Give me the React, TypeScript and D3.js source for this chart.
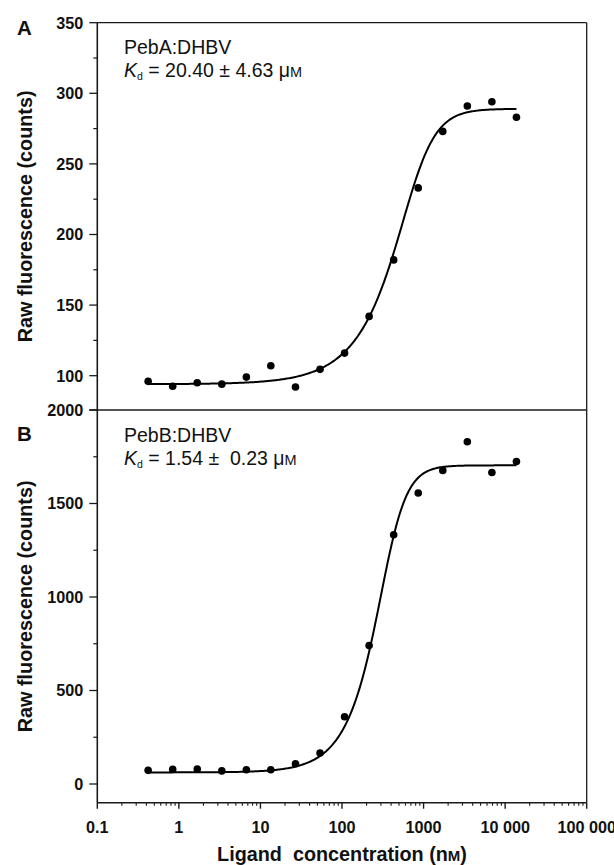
import React from 'react';
import * as d3 from 'd3';

// ---- data ----
const concentrations = [0.42, 0.84, 1.68, 3.36, 6.72, 13.4, 26.9, 53.8, 107.5, 215, 430, 860, 1720, 3440, 6880, 13760];
const pebAValues = [96, 92.5, 95, 94, 99, 107, 92, 104.5, 116, 142, 182, 233, 273, 291, 294, 283];
const pebBValues = [73, 78, 80, 70, 76.5, 76, 108, 166, 360, 740, 1333, 1556, 1677, 1830, 1666, 1725];

const xTickValues = [0.1, 1, 10, 100, 1000, 10000, 100000];
const xTickLabels = ['0.1', '1', '10', '100', '1000', '10 000', '100 000'];
const yTicksA = [100, 150, 200, 250, 300, 350];
const yMinorA = [125, 175, 225, 275, 325];
const yTicksB = [0, 500, 1000, 1500, 2000];
const yMinorB = [250, 750, 1250, 1750];

// fitted curve parameters (asymmetric logistic)
const fitA = { bottom: 94, top: 289, c: 780, b: 2.4, g: 0.45 };
const fitB = { bottom: 62, top: 1704, c: 379, b: 3, g: 0.5 };

const FONT = '"Liberation Sans", Arial, Helvetica, sans-serif';
const W = 614;
const H = 865;
const left = 97.3;
const right = 586.7;
const topA = 22.7;
const mid = 410;
const bottomB = 802.7;

const x = d3.scaleLog().domain([0.1, 100000]).range([left, right]);
const yA = d3.scaleLinear().domain([75.7, 350]).range([mid, topA]);
const yB = d3.scaleLinear().domain([-100, 2000]).range([bottomB, mid]);

function fitValue(p: { bottom: number; top: number; c: number; b: number; g: number }, xv: number) {
  return p.bottom + (p.top - p.bottom) / Math.pow(1 + Math.pow(p.c / xv, p.b), p.g);
}

function curvePath(p: any, y: d3.ScaleLinear<number, number>) {
  const lo = Math.log10(concentrations[0]);
  const hi = Math.log10(concentrations[concentrations.length - 1]);
  const pts = d3.range(0, 301).map((i) => {
    const xv = Math.pow(10, lo + ((hi - lo) * i) / 300);
    return [xv, fitValue(p, xv)] as [number, number];
  });
  return d3.line<[number, number]>().x((d) => x(d[0])).y((d) => y(d[1])).curve(d3.curveLinear)(pts) || '';
}

function minorX() {
  const out: number[] = [];
  for (let e = -1; e < 5; e++) {
    for (let k = 2; k <= 9; k++) out.push(k * Math.pow(10, e));
  }
  return out;
}

const axisColor = '#1a1a1a';

function YAxis({ y, ticks, minor }: { y: d3.ScaleLinear<number, number>; ticks: number[]; minor: number[] }) {
  return (
    <g>
      {ticks.map((t) => (
        <g key={'t' + t}>
          <line x1={left - 8} x2={left} y1={y(t)} y2={y(t)} stroke={axisColor} strokeWidth={1.3} />
          <text x={left - 14} y={y(t)} dy="0.36em" textAnchor="end" fontFamily={FONT} fontWeight="bold" fontSize={16.2} fill="#111">
            {t}
          </text>
        </g>
      ))}
      {minor.map((t) => (
        <line key={'m' + t} x1={left - 4} x2={left} y1={y(t)} y2={y(t)} stroke={axisColor} strokeWidth={1.2} />
      ))}
    </g>
  );
}

function Points({ vals, y }: { vals: number[]; y: d3.ScaleLinear<number, number> }) {
  return (
    <g>
      {vals.map((v, i) => (
        <circle key={i} cx={x(concentrations[i])} cy={y(v)} r={3.8} fill="#000" />
      ))}
    </g>
  );
}

function KdLabel({ xPos, yPos, value }: { xPos: number; yPos: number; value: string }) {
  return (
    <text x={xPos} y={yPos} fontFamily={FONT} fontSize={19.5} fill="#111">
      <tspan fontStyle="italic">K</tspan>
      <tspan fontSize={10.5} dy={3}>d</tspan>
      <tspan dy={-3}>{' = ' + value + ' μ'}</tspan>
      <tspan fontSize={14.5}>M</tspan>
    </text>
  );
}

export default function App() {
  const minors = minorX();
  return (
    <svg width={W} height={H} style={{ position: 'absolute', left: 0, top: 0, background: '#fff' }}>
      <rect x={0} y={0} width={W} height={H} fill="#fff" />
      {/* frame */}
      <line x1={left} x2={right} y1={topA} y2={topA} stroke={axisColor} strokeWidth={1.3} />
      <line x1={right} x2={right} y1={topA} y2={bottomB} stroke={axisColor} strokeWidth={1.3} />
      <line x1={left - 8} x2={right} y1={mid} y2={mid} stroke={axisColor} strokeWidth={1.3} />
      <line x1={left} x2={left} y1={topA} y2={bottomB} stroke={axisColor} strokeWidth={1.6} />
      <line x1={left} x2={right} y1={bottomB} y2={bottomB} stroke={axisColor} strokeWidth={1.6} />

      <YAxis y={yA} ticks={yTicksA} minor={yMinorA} />
      <YAxis y={yB} ticks={yTicksB} minor={yMinorB} />

      {/* x axis ticks */}
      {xTickValues.map((t, i) => (
        <g key={'x' + t}>
          <line x1={x(t)} x2={x(t)} y1={bottomB} y2={bottomB + 6} stroke={axisColor} strokeWidth={1.4} />
          <text x={x(t)} y={833} textAnchor="middle" fontFamily={FONT} fontWeight="bold" fontSize={16.2} fill="#111">
            {xTickLabels[i]}
          </text>
        </g>
      ))}
      {minors.map((t) => (
        <line key={'xm' + t} x1={x(t)} x2={x(t)} y1={bottomB} y2={bottomB + 3} stroke={axisColor} strokeWidth={1.1} />
      ))}

      {/* axis titles */}
      <text x={342} y={861} textAnchor="middle" fontFamily={FONT} fontWeight="bold" fontSize={19.8} fill="#111">
        <tspan>{'Ligand\u00a0 concentration (n'}</tspan>
        <tspan fontSize={15}>M</tspan>
        <tspan>)</tspan>
      </text>
      <text transform={`translate(32, ${(topA + mid) / 2}) rotate(-90)`} textAnchor="middle" fontFamily={FONT} fontWeight="bold" fontSize={19.8} fill="#111">
        Raw fluorescence (counts)
      </text>
      <text transform={`translate(32, ${(mid + bottomB) / 2}) rotate(-90)`} textAnchor="middle" fontFamily={FONT} fontWeight="bold" fontSize={19.8} fill="#111">
        Raw fluorescence (counts)
      </text>

      {/* panel letters */}
      <text x={17} y={35} fontFamily={FONT} fontWeight="bold" fontSize={20.5} fill="#111">A</text>
      <text x={17} y={441} fontFamily={FONT} fontWeight="bold" fontSize={20.5} fill="#111">B</text>

      {/* annotations */}
      <text x={124} y={54} fontFamily={FONT} fontSize={19.5} fill="#111">PebA:DHBV</text>
      <KdLabel xPos={124} yPos={77} value="20.40 ± 4.63" />
      <text x={124} y={442} fontFamily={FONT} fontSize={19.5} fill="#111">PebB:DHBV</text>
      <KdLabel xPos={124} yPos={465} value={'1.54 ±\u00a0 0.23'} />

      {/* fits */}
      <path d={curvePath(fitA, yA)} fill="none" stroke="#000" strokeWidth={2} />
      <path d={curvePath(fitB, yB)} fill="none" stroke="#000" strokeWidth={2} />

      <Points vals={pebAValues} y={yA} />
      <Points vals={pebBValues} y={yB} />
    </svg>
  );
}
